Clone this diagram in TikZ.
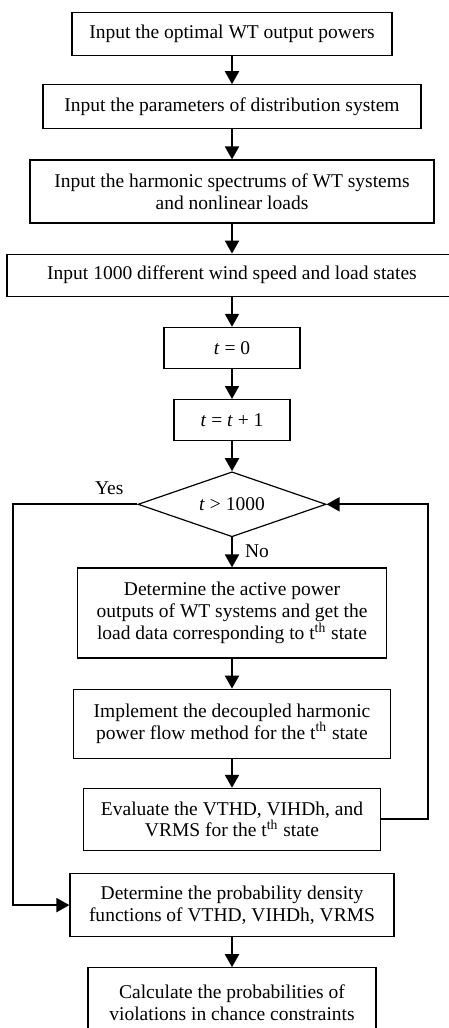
\documentclass[tikz,border=0pt]{standalone}
\usepackage{fontspec}
\setmainfont{Liberation Serif}
\usetikzlibrary{arrows.meta,shapes.geometric,positioning}

\begin{document}
\begin{tikzpicture}[
        ->,>={Triangle[width=7pt,length=6.5pt]},
        node distance=15pt, line width=1pt,
        font=\fontsize{9.75pt}{10.85pt}\selectfont
    ]

    \tikzstyle{block} = [rectangle,draw,line width=0.6pt,align=center,inner sep=2pt]
    \tikzstyle{decision} = [diamond,draw,line width=0.6pt,inner sep=0pt,aspect=2.9]
    \tikzstyle{answer} = [inner sep=0pt]

    \useasboundingbox (0,0) rectangle (224.5pt,-514pt);

    \node[block,minimum width=160pt,minimum height=21.5pt] (wt) at (116pt,-6pt) [anchor=north] {Input the optimal WT output powers};
    \node[block,minimum width=189pt,minimum height=22pt] (param) [below=14pt of wt] {Input the parameters of distribution system};
    \node[block,minimum width=202pt,minimum height=31.5pt] (spec) [below=of param] {Input the harmonic spectrums of WT systems\\and nonlinear loads};
    \node[block,minimum width=225pt,minimum height=21pt] (states) [below=of spec] {Input 1000 different wind speed and load states};
    \node[block,minimum width=68pt,minimum height=20.5pt] (init) [below=of states] {\textit{t} = 0};
    \node[block,minimum width=58pt,minimum height=20.5pt] (incr) [below=of init] {\textit{t} = \textit{t} + 1};
    \node[decision,minimum width=94pt,minimum height=32.5pt] (check) [below=of incr] {\textit{t} > 1000};
    \node[block,minimum width=154.5pt,minimum height=45pt] (outputs) [below=of check] {Determine the active power\\outputs of WT systems and get the\\load data corresponding to t\textsuperscript{th} state};
    \node[block,minimum width=158.5pt,minimum height=34.5pt] (flow) [below=of outputs] {Implement the decoupled harmonic\\power flow method for the t\textsuperscript{th} state};
    \node[block,minimum width=148.5pt,minimum height=31pt] (eval) [below=14.5pt of flow] {Evaluate the VTHD, VIHDh, and\\VRMS for the t\textsuperscript{th} state};
    \node[block,minimum width=162pt,minimum height=31.5pt] (pdf) [below=11pt of eval] {Determine the probability density\\functions of VTHD, VIHDh, VRMS};
    \node[block,minimum width=144pt,minimum height=35pt] (prob) [below=of pdf] {Calculate the probabilities of\\violations in chance constraints};

    \node[answer] (yes) [above left=4.5pt and 6.5pt of check.west] {Yes};
    \node[answer] (no) [below right=3pt and 6pt of check.south] {No};

    \coordinate (lft) at (6.5pt,0);
    \coordinate (rgt) at (214pt,0);

    \path
        (wt)      edge (param)
        (param)   edge (spec)
        (spec)    edge (states)
        (states)  edge (init)
        (init)    edge (incr)
        (incr)    edge (check)
        (check)   edge (outputs)
        (outputs) edge (flow)
        (flow)    edge (eval)
        (pdf)     edge (prob)
    ;
    \draw (eval.east) -- (eval.east -| rgt) |- (check.east);
    \draw (check.west) -- (check.west -| lft) |- (pdf.west);

\end{tikzpicture}
\end{document}
